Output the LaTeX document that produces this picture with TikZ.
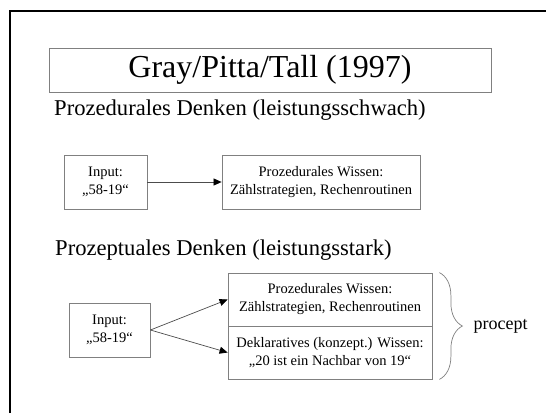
\documentclass[tikz,border=0pt]{standalone}
\usepackage{fontspec}
\setmainfont{Liberation Serif}
\usetikzlibrary{arrows.meta,decorations.pathreplacing}

\begin{document}
\begin{tikzpicture}[x=1pt,y=-1pt,
    box/.style={draw=gray,line width=0.8pt,align=center,inner sep=0pt,
      font=\fontsize{14.5}{18}\selectfont},
    head/.style={anchor=base west,inner sep=0pt,font=\fontsize{22.6}{27}\selectfont},
    arr/.style={draw=black!70,line width=0.7pt,-{Triangle[length=8pt,width=7pt,color=black]}}]
    \def\boxht{54}
    \def\halfht{53}
    \def\knowwd{204}

    \useasboundingbox (0,0) rectangle (546,413);
    \draw[line width=2pt] (10,413) -- (10,11) -- (546,11);

    \node[box,minimum width=442,minimum height=44,font=\fontsize{32}{38}\selectfont] (title) at (270,70) {Gray/Pitta/Tall (1997)};
    \node[head] (headproc) at (54,115) {Prozedurales Denken (leistungsschwach)};
    \node[head] (headconc) at (55,255) {Prozeptuales Denken (leistungsstark)};

    % procedural row
    \node[box,minimum width=83,minimum height=\boxht] (inproc) at (105.5,182) {Input:\\„58-19“};
    \node[box,minimum width=198,minimum height=\boxht] (proc) at (321,182) {Prozedurales Wissen:\\Zählstrategien, Rechenroutinen};
    \draw[arr] (inproc) -- (proc);

    % proceptual row
    \node[box,minimum width=81,minimum height=\boxht] (inconc) at (109.5,330) {Input:\\„58-19“};
    \node[box,minimum width=\knowwd,minimum height=\halfht] (knowproc) at (330,299.5) {Prozedurales Wissen:\\Zählstrategien, Rechenroutinen};
    \node[box,minimum width=\knowwd,minimum height=\halfht] (knowdecl) at (330,352.5) {Deklaratives (konzept.) Wissen:\\„20 ist ein Nachbar von 19“};
    \draw[arr] (inconc.east) -- (knowproc.west);
    \draw[arr] (inconc.east) -- (knowdecl.west);

    \draw[gray,line width=0.7pt,decorate,decoration={brace,amplitude=23pt}]
      ([xshift=7pt]knowproc.north east) -- ([xshift=7pt]knowdecl.south east);
    \node[anchor=west,inner sep=0pt,font=\fontsize{18}{22}\selectfont] (procept) at ([xshift=41pt]knowproc.south east) {procept};
\end{tikzpicture}
\end{document}
